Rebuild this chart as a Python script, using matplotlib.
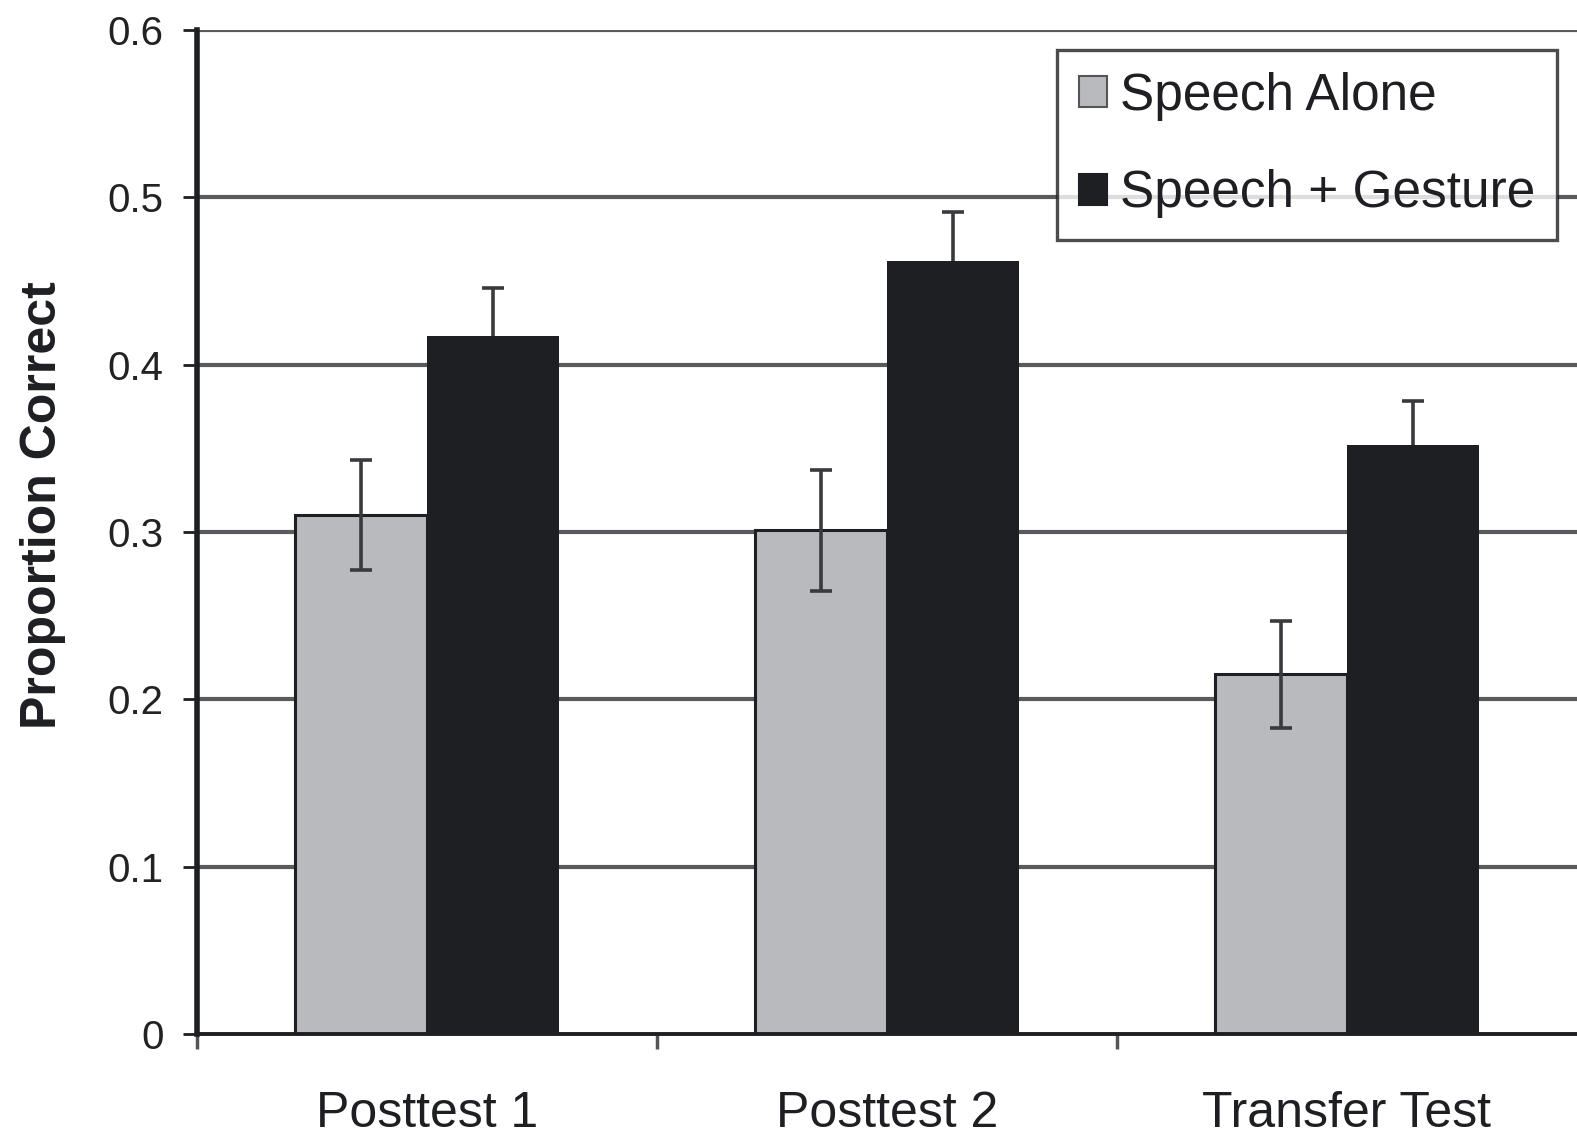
import matplotlib
matplotlib.use("Agg")
import matplotlib.pyplot as plt
import numpy as np
from matplotlib.patches import Patch

categories = ["Posttest 1", "Posttest 2", "Transfer Test"]
series_names = ["Speech Alone", "Speech + Gesture"]
speech_alone = [0.310, 0.301, 0.215]
speech_alone_err = [0.033, 0.036, 0.032]
speech_gesture = [0.417, 0.462, 0.352]
speech_gesture_err = [0.029, 0.029, 0.026]
yticks = [0, 0.1, 0.2, 0.3, 0.4, 0.5, 0.6]
ytick_labels = ["0", "0.1", "0.2", "0.3", "0.4", "0.5", "0.6"]

plt.rcParams['font.family'] = ['Liberation Sans', 'DejaVu Sans']

W, H = 1577, 1138
fig = plt.figure(figsize=(W / 100, H / 100), dpi=100)
ax = fig.add_axes([197 / W, (1138 - 1034) / H, (1577 - 197) / W, (1034 - 30) / H])

gray = "#b9babe"
black = "#1e1f22"
x = np.arange(len(categories))
bw = 0.287

for yv in yticks[1:]:
    ax.axhline(yv, color="#5a5a5e", lw=3.0, zorder=0)

ax.bar(x - bw / 2, speech_alone, width=bw, color=gray, edgecolor=black, linewidth=2.2, zorder=2)
ax.bar(x + bw / 2, speech_gesture, width=bw, color=black, edgecolor=black, linewidth=0, zorder=2)
ax.errorbar(x - bw / 2, speech_alone, yerr=speech_alone_err, fmt='none', ecolor="#3a3a3e",
            elinewidth=2.6, capsize=8, capthick=2.6, zorder=3)
ax.errorbar(x + bw / 2, speech_gesture, yerr=speech_gesture_err, fmt='none', ecolor="#3a3a3e",
            elinewidth=2.6, capsize=8, capthick=2.6, zorder=1.5)

ax.set_xlim(-0.5, 2.5)
ax.set_ylim(0, 0.6)
ax.set_yticks(yticks)
ax.set_yticklabels(ytick_labels)
ax.tick_params(axis='y', length=10, width=2, color="#1e1f22", pad=14, labelsize=29, labelcolor="#222222")

ax.set_xticks([-0.5, 0.5, 1.5])
ax.set_xticklabels([])
ax.tick_params(axis='x', which='major', length=11, width=2.5, color="#555555", direction='out')
ax.set_xticks(x, minor=True)
ax.set_xticklabels(categories, minor=True)
ax.tick_params(axis='x', which='minor', length=0, pad=41, labelsize=36, labelcolor="#1e1f22")

for s in ["top", "right"]:
    ax.spines[s].set_visible(False)
ax.spines["left"].set_linewidth(4.0)
ax.spines["left"].set_color(black)
ax.spines["bottom"].set_linewidth(2.8)
ax.spines["bottom"].set_color(black)

ax.set_ylabel("Proportion Correct", fontsize=36, fontweight='bold', color="#1e1f22")
ax.yaxis.set_label_coords(-0.095, 0.527)

handles = [Patch(facecolor=gray, edgecolor="#555555", linewidth=1.5),
           Patch(facecolor=black, edgecolor=black, linewidth=1.5)]
leg = ax.legend(handles, series_names, loc="upper right", bbox_to_anchor=(0.9855, 0.98),
                fontsize=37, frameon=True, fancybox=False, handlelength=0.55, handleheight=0.55,
                handletextpad=0.25, labelspacing=0.95, borderpad=0.42, borderaxespad=0)
leg.get_frame().set_edgecolor(black)
leg.get_frame().set_linewidth(2.4)
for t in leg.get_texts():
    t.set_color("#1e1f22")

fig.savefig("out.png", dpi=100)
